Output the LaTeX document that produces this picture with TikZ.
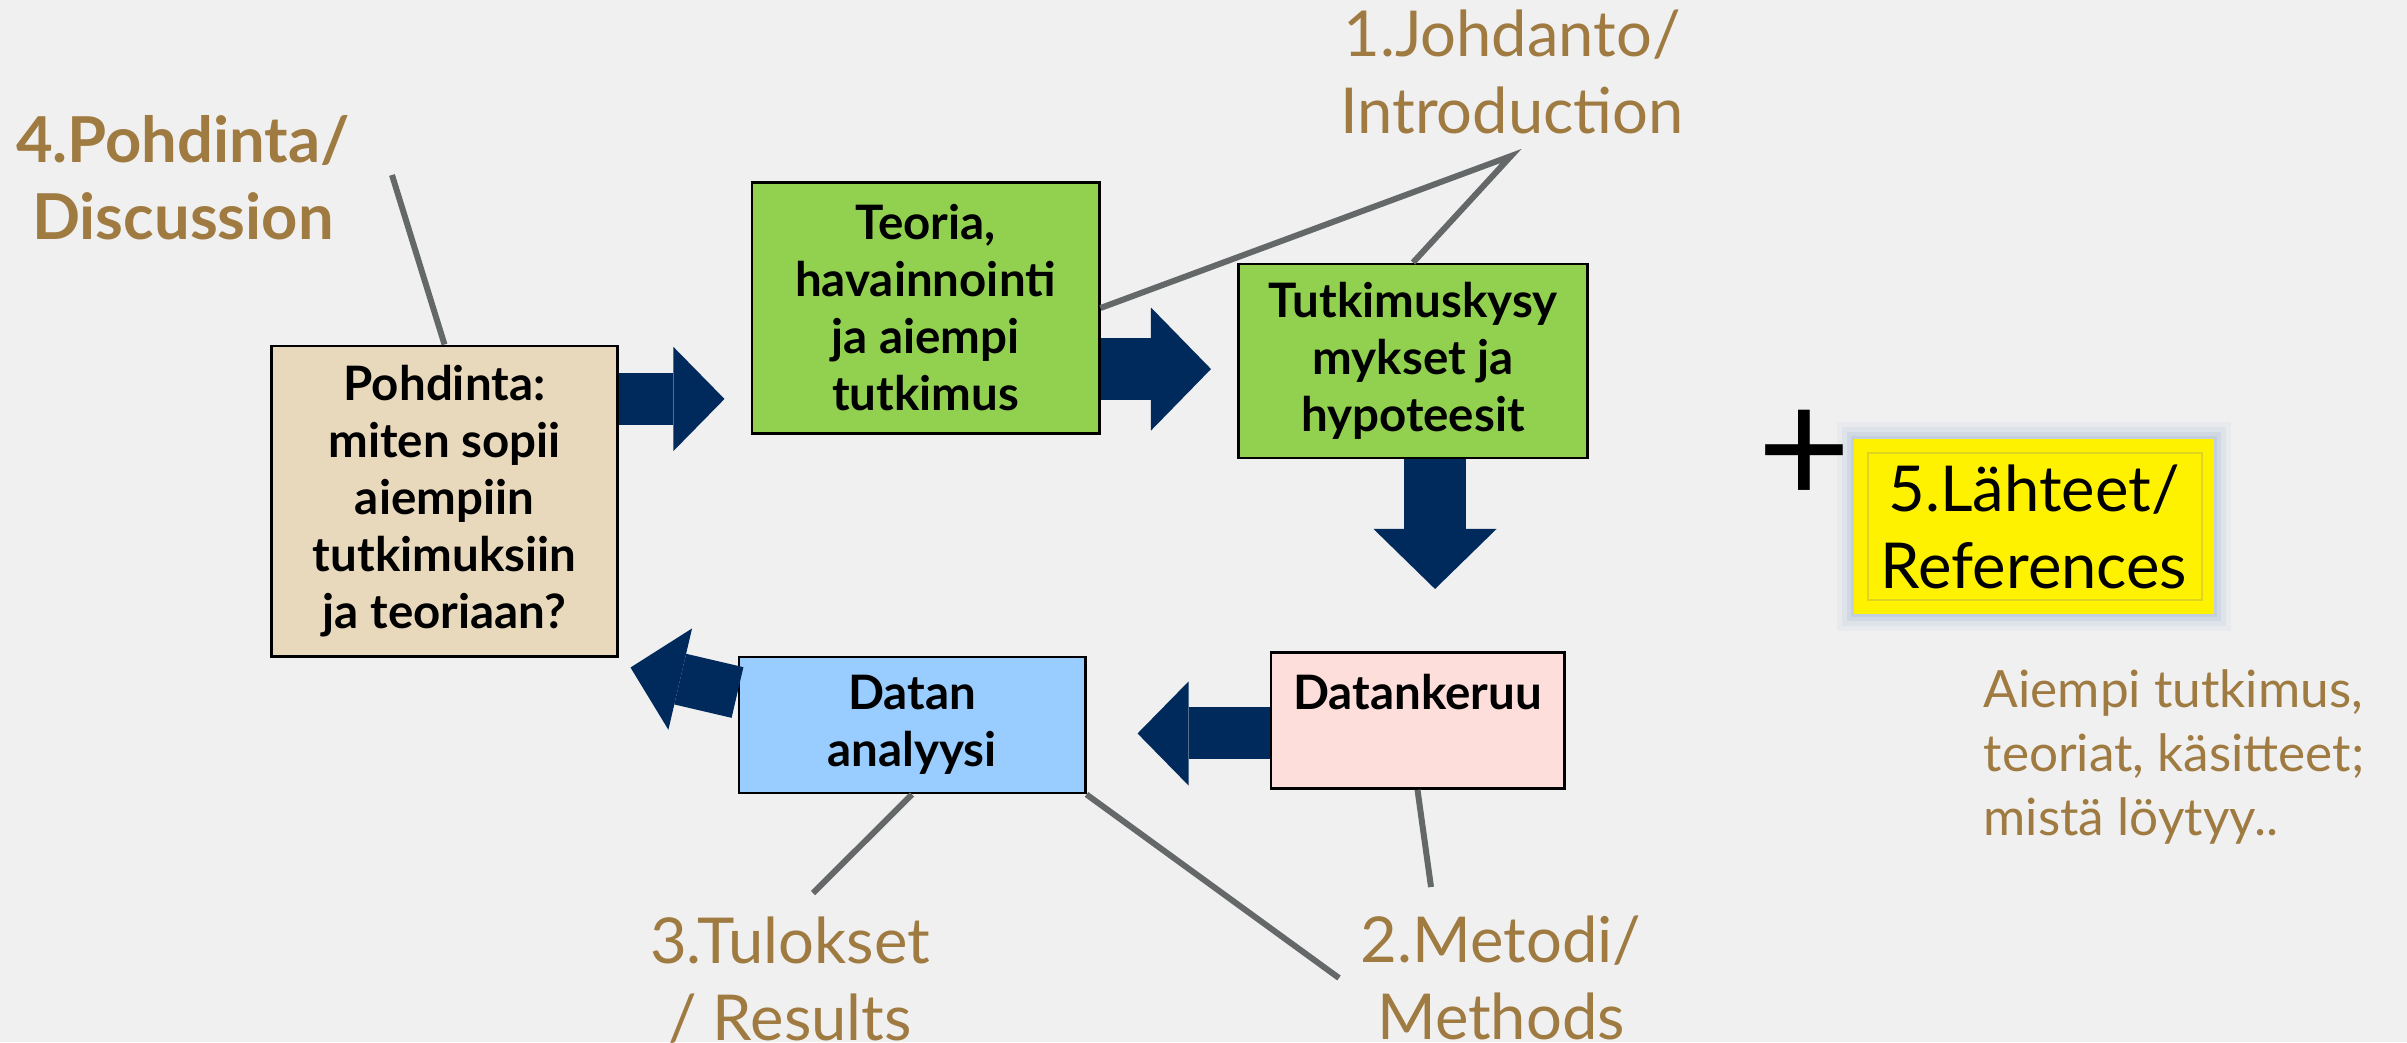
\documentclass[tikz,border=0pt]{standalone}
\usepackage{fontspec}
\setmainfont{Lato}
\usetikzlibrary{arrows.meta,calc}

\definecolor{bg}{HTML}{F0F0F0}
\definecolor{navy}{HTML}{002A5C}
\definecolor{labbrown}{HTML}{9F7B42}
\definecolor{linegray}{HTML}{646868}
\definecolor{beige}{HTML}{E8D9BD}
\definecolor{leafgreen}{HTML}{92D050}
\definecolor{skyblue}{HTML}{99CCFF}
\definecolor{rosepink}{HTML}{FDDEDA}
\definecolor{glow}{HTML}{A9BBD3}

\tikzset{
	box/.style={draw=black, line width=0.8pt, inner sep=0pt, align=center, font=\fontsize{13.5}{16.2}\selectfont\bfseries},
	fatarrow/.style={draw=navy, line width=0.52cm, -{Triangle[length=0.51cm,width=1.04cm,line width=0pt]}},
	bigarrow/.style={draw=navy, line width=0.62cm, -{Triangle[length=0.6cm,width=1.23cm,line width=0pt]}},
	leader/.style={draw=linegray, line width=1.7pt},
	tag/.style={text=labbrown, align=center, inner sep=0pt, font=\fontsize{18}{21.9}\selectfont},
	tagbold/.style={tag, font=\fontsize{18}{21.9}\selectfont\bfseries},
	refbox/.style={fill=yellow, inner sep=0pt, minimum width=3.6cm, minimum height=1.75cm, align=center,
		font=\fontsize{18}{21.9}\selectfont,
		preaction={draw=glow, line width=0.34cm, opacity=0.10},
		preaction={draw=glow, line width=0.24cm, opacity=0.15},
		preaction={draw=glow, line width=0.14cm, opacity=0.25},
		preaction={draw=glow, line width=0.06cm, opacity=0.3},
		path picture={\draw[yellow!86!black, line width=0.5pt]
			([shift={(0.14cm,0.14cm)}]path picture bounding box.south west) rectangle
			([shift={(-0.12cm,-0.14cm)}]path picture bounding box.north east);}},
}

\begin{document}
\begin{tikzpicture}[x=0.01cm, y=-0.01cm]
	\fill[bg] (0,0) rectangle (2407,1042);
	\useasboundingbox (0,0) rectangle (2407,1042);

	%boxes
	\node[box, fill=beige, minimum width=3.45cm, minimum height=3.1cm] (pohd) at (444.5,501) {Pohdinta:\\miten sopii\\aiempiin\\tutkimuksiin\\ja teoriaan?};
	\node[box, fill=leafgreen, minimum width=3.47cm, minimum height=2.51cm] (teoria) at (925.5,308) {Teoria,\\havainnointi\\ja aiempi\\tutkimus};
	\node[box, fill=leafgreen, minimum width=3.49cm, minimum height=1.94cm] (tutk) at (1413,361) {Tutkimuskysy\\mykset ja\\hypoteesit};
	\node[box, fill=rosepink, minimum width=2.93cm, text height=0.57cm, text depth=0.79cm, anchor=north] (datk) at (1417.5,651) {Datankeruu};
	\node[box, fill=skyblue, minimum width=3.46cm, minimum height=1.36cm] (datan) at (912,725) {Datan\\analyysi};
	\node[refbox] (refs) at (2034,526.5) {5.Lähteet/\\References};
	\node[font=\fontsize{46}{46}\selectfont, inner sep=0pt] (plus) at (1804,457) {+};

	%labels
	\node[tagbold] (discussion) at (183,178) {4.Pohdinta/\\Discussion};
	\node[tag] (intro) at (1512,72) {1.Johdanto/\\Introduction};
	\node[tag] (results) at (790,980) {3.Tulokset\\/ Results};
	\node[tag] (methods) at (1501,978) {2.Metodi/\\Methods};
	\node[tag, align=left, anchor=west, font=\fontsize{14.6}{18.2}\selectfont] (note) at (1983,757) {Aiempi tutkimus,\\teoriat, käsitteet;\\mistä löytyy..};

	%leader lines
	\coordinate (c4) at (392,175);
	\coordinate (c1) at (1511,156);
	\coordinate (c3) at (813,893);
	\coordinate (c2a) at (1339,978);
	\coordinate (c2b) at (1431,887);
	\draw[leader] (pohd.north) -- (c4);
	\draw[leader] (teoria.east) -- (c1) -- (tutk.north);
	\draw[leader] (datan.south) -- (c3);
	\draw[leader] (datan.south east) -- (c2a);
	\draw[leader] (datk.south) -- (c2b);

	%block arrows
	\coordinate (a1) at ([yshift=1.02cm]pohd.east);
	\coordinate (a2) at ([yshift=-0.61cm]teoria.east);
	\coordinate (a3) at ([xshift=0.22cm]tutk.south);
	\coordinate (a4) at ([yshift=-0.13cm]datk.west);
	\coordinate (a5) at ([yshift=0.325cm]datan.west);
	\draw[fatarrow, shorten >=0.26cm] (a1) -- (a1 -| teoria.west);
	\draw[bigarrow, shorten >=0.26cm] (a2) -- (a2 -| tutk.west);
	\draw[bigarrow, shorten >=0.62cm] (a3) -- (a3 |- datk.north);
	\draw[fatarrow, shorten >=0.51cm] (a4) -- (a4 -| datan.east);
	\draw[fatarrow] (a5) -- ([shift={(0.12cm,-0.10cm)}]pohd.south east);
\end{tikzpicture}
\end{document}
